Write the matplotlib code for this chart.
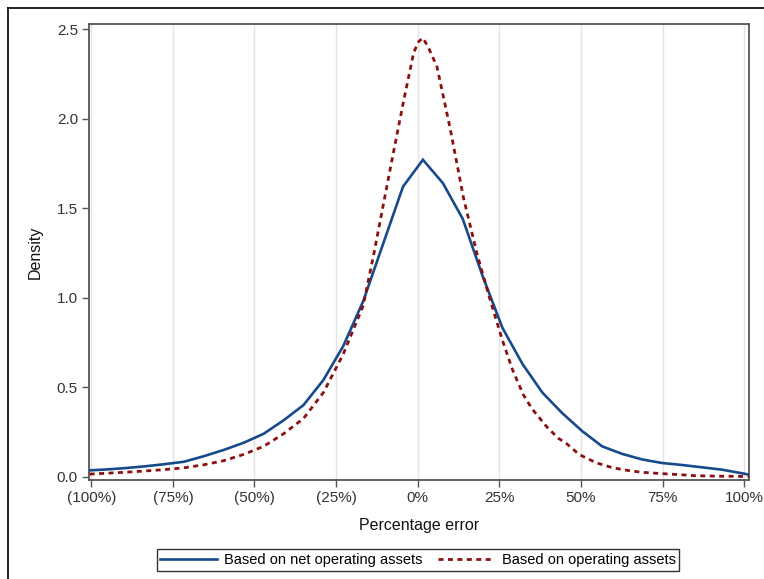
import matplotlib
matplotlib.use("Agg")
import matplotlib.pyplot as plt
from matplotlib.lines import Line2D

plt.rcParams['font.family'] = ['Liberation Sans', 'DejaVu Sans']

# ---- data ----
x_net = [-100.5, -96.0, -89.9, -83.8, -77.7, -71.6, -65.5, -59.4, -53.3, -47.2,
         -41.1, -35.0, -28.9, -22.8, -16.7, -10.6, -4.5, 1.6, 7.7, 13.8,
         19.9, 26.0, 32.1, 38.2, 44.3, 50.4, 56.5, 62.6, 68.7, 74.8,
         80.9, 87.0, 93.1, 99.2, 101.5]
y_net = [0.036, 0.040, 0.048, 0.058, 0.070, 0.084, 0.115, 0.150, 0.190, 0.240,
         0.315, 0.400, 0.540, 0.730, 0.980, 1.300, 1.620, 1.770, 1.640, 1.440,
         1.120, 0.830, 0.630, 0.470, 0.355, 0.255, 0.170, 0.128, 0.097, 0.077,
         0.066, 0.053, 0.040, 0.020, 0.012]

x_op = [-100.5, -96.0, -89.9, -83.8, -77.7, -71.6, -65.5, -59.4, -53.3, -47.2,
        -41.1, -35.0, -28.9, -22.8, -16.7, -13.4, -8.3, -4.3, -1.2, 0.3, 1.6,
        3.2, 5.9, 10.0, 14.0, 18.1, 22.0, 26.0, 29.0, 32.3, 35.0, 39.5,
        43.0, 45.5, 49.5, 54.7, 59.8, 64.8, 68.7, 74.5, 80.9, 85.0,
        93.1, 101.5]
y_op = [0.015, 0.019, 0.025, 0.032, 0.040, 0.050, 0.067, 0.090, 0.125, 0.170,
        0.240, 0.325, 0.470, 0.685, 0.955, 1.248, 1.730, 2.100, 2.370, 2.430, 2.450,
        2.400, 2.290, 1.940, 1.560, 1.250, 1.000, 0.760, 0.600, 0.460, 0.380, 0.280,
        0.216, 0.187, 0.124, 0.078, 0.050, 0.034, 0.025, 0.018, 0.011, 0.006,
        0.003, 0.002]

x_ticks = [-100, -75, -50, -25, 0, 25, 50, 75, 100]
x_ticklabels = ['(100%)', '(75%)', '(50%)', '(25%)', '0%', '25%', '50%', '75%', '100%']
y_ticks = [0.0, 0.5, 1.0, 1.5, 2.0, 2.5]
y_ticklabels = ['0.0', '0.5', '1.0', '1.5', '2.0', '2.5']
series_names = ['Based on net operating assets', 'Based on operating assets']

# ---- figure ----
W, H = 764, 579
fig = plt.figure(figsize=(W / 100, H / 100), dpi=100)
fig.patch.set_facecolor('white')

# outer frame (left and top edges visible)
fig.add_artist(Line2D([8 / W, 8 / W], [0, 1 - 8 / H], transform=fig.transFigure,
                      color='black', lw=1.2))
fig.add_artist(Line2D([8 / W, 1], [1 - 8 / H, 1 - 8 / H], transform=fig.transFigure,
                      color='black', lw=1.2))

left, right, top, bottom = 89, 749, 24, 480
ax = fig.add_axes([left / W, 1 - bottom / H, (right - left) / W, (bottom - top) / H])

blue = '#174a8b'
red = '#8b1010'
ax.plot(x_net, y_net, color=blue, lw=1.9, solid_joinstyle='miter', zorder=3,
        label=series_names[0])
ax.plot(x_op, y_op, color=red, lw=2.0, linestyle=(0, (1.8, 1.6)), zorder=3,
        label=series_names[1])

ax.set_xlim(-100.7, 101.5)
ax.set_ylim(-0.018, 2.528)
ax.set_xticks(x_ticks)
ax.set_xticklabels(x_ticklabels)
ax.set_yticks(y_ticks)
ax.set_yticklabels(y_ticklabels)

ax.grid(axis='x', color='#e3e3e3', lw=1.0, zorder=0)
ax.set_axisbelow(True)

for s in ax.spines.values():
    s.set_color('#555555')
    s.set_linewidth(1.3)

ax.tick_params(axis='both', direction='out', length=5, width=1.0, color='#555555',
               labelsize=11, labelcolor='#333333', pad=3)

ax.set_xlabel('Percentage error', fontsize=11.5, color='#111111', labelpad=9)
ax.set_ylabel('Density', fontsize=11.5, color='#111111', labelpad=10)

leg = fig.legend(loc='center', bbox_to_anchor=(418 / W, 1 - 560 / H), ncol=2,
                 fontsize=10.5, frameon=True, fancybox=False, handlelength=3.9,
                 handletextpad=0.5, columnspacing=1.0, borderpad=0.25,
                 edgecolor='black')
leg.get_frame().set_linewidth(1.0)

fig.savefig('out.png', dpi=100, facecolor='white')
